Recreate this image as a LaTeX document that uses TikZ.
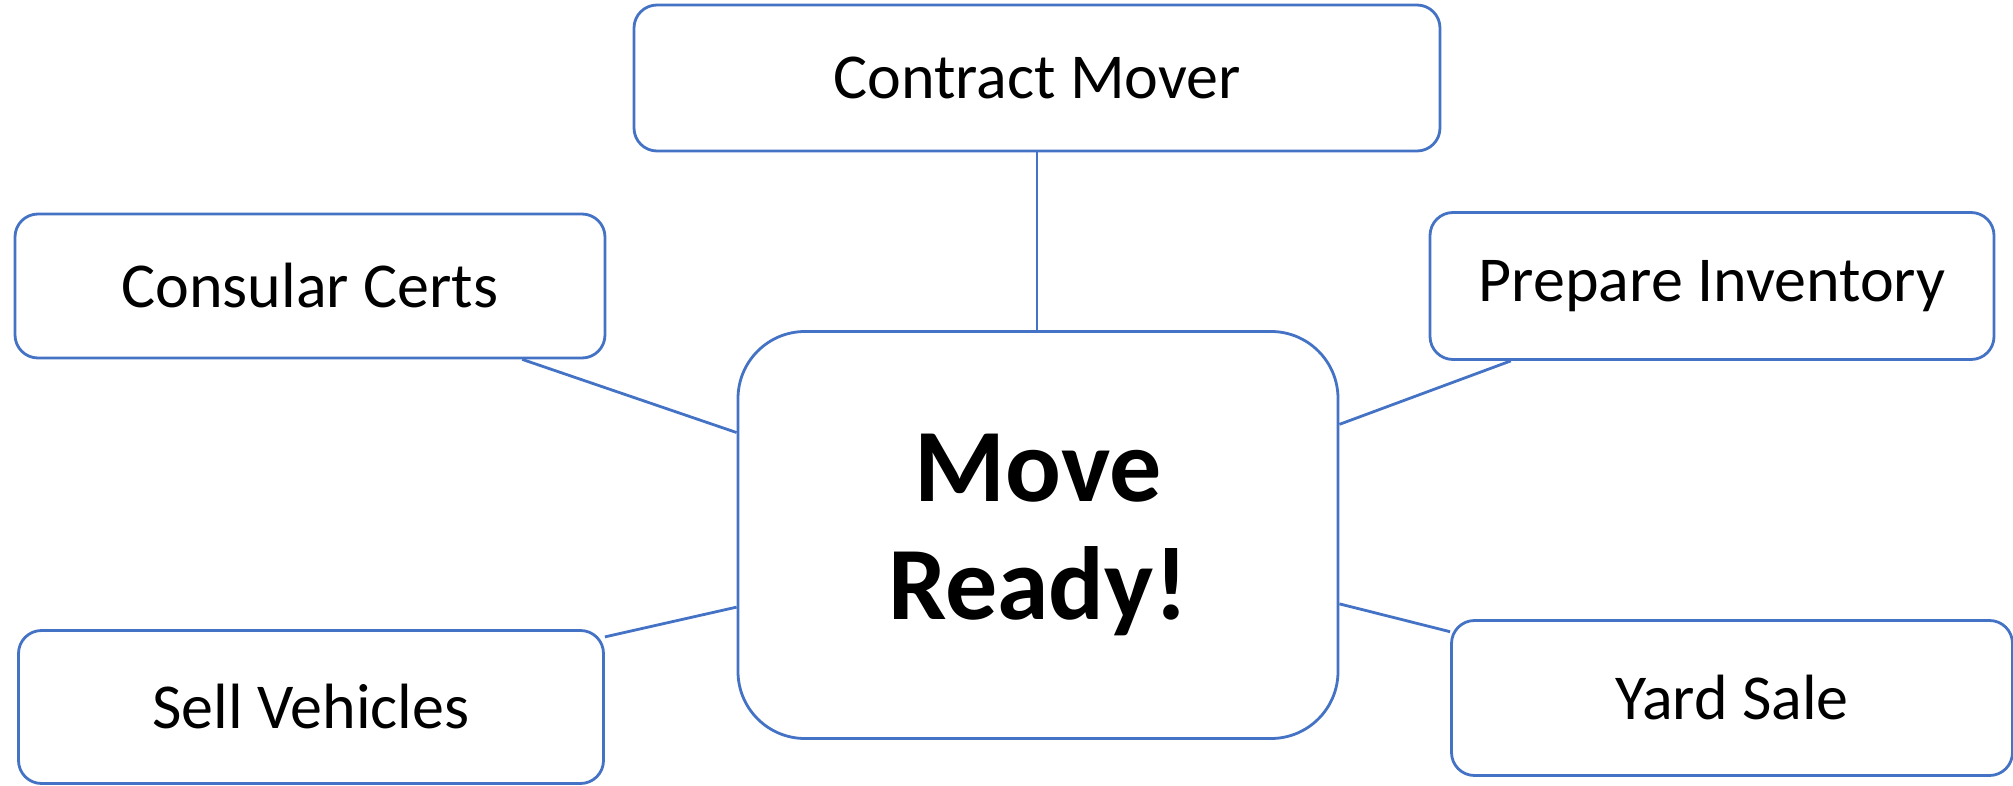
\documentclass[tikz,border=0pt]{standalone}
\usepackage{fontspec}
\setmainfont{Carlito}
\usepackage{xcolor}
\usetikzlibrary{calc,positioning,shapes}
\definecolor{officeblue}{HTML}{4472C4}
\tikzset{%
	topic/.style = {draw=officeblue, line width=2.8pt, rectangle, rounded corners=23pt, fill=white, text centered, font=\fontsize{64}{77}\selectfont},
	hub/.style   = {draw=officeblue, line width=2.8pt, rectangle, rounded corners=67pt, fill=white, align=center, font=\bfseries\fontsize{104}{118}\selectfont},
	link/.style  = {draw=officeblue, line width=2.8pt},
}
\begin{document}
\begin{tikzpicture}[x=1pt,y=-1pt]
	\useasboundingbox (0,0) rectangle (2013,786);
	\node [hub, minimum width=600pt, minimum height=407pt] (ready) at (1038,535) {Move\\Ready!};
	\node [topic, minimum width=806pt, minimum height=146pt] (mover) at (1037,78) {Contract Mover};
	\node [topic, minimum width=590pt, minimum height=144pt] (certs) at (310,286) {Consular Certs};
	\node [topic, minimum width=564pt, minimum height=147pt] (inv) at (1712,286) {Prepare Inventory};
	\node [topic, minimum width=585pt, minimum height=153pt] (cars) at (311,707) {Sell Vehicles};
	\node [topic, minimum width=561pt, minimum height=155pt] (sale) at (1732,698) {Yard Sale};
	
	\draw[link] (mover.south) -- (mover.south |- ready.north);
	\draw[link] ($(certs.south west)!0.858!(certs.south east)$) -- ($(ready.north west)!0.25!(ready.south west)$);
	\draw[link] ($(inv.south west)!0.145!(inv.south east)$) -- ($(ready.north east)!0.23!(ready.south east)$);
	\draw[link] ($(cars.north east)!0.05!(cars.south east)$) -- ($(ready.north west)!0.676!(ready.south west)$);
	\draw[link] ($(sale.north west)!0.08!(sale.south west)$) -- ($(ready.north east)!0.668!(ready.south east)$);
\end{tikzpicture}
\end{document}
